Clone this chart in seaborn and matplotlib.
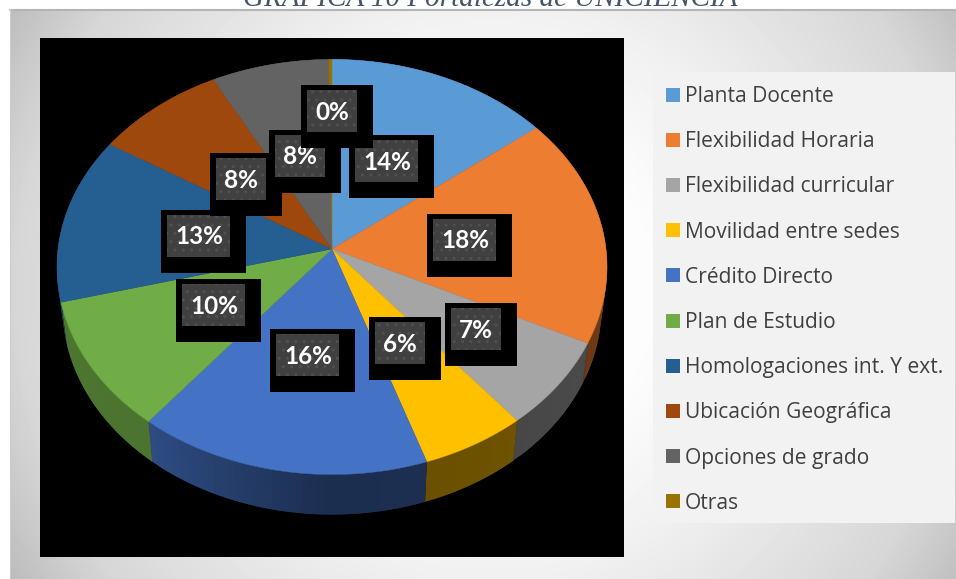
import numpy as np
import matplotlib
matplotlib.use("Agg")
import matplotlib.pyplot as plt
from matplotlib.patches import Rectangle, Patch
import seaborn as sns

# data
categorias = ["Planta Docente", "Flexibilidad Horaria", "Flexibilidad curricular",
              "Movilidad entre sedes", "Crédito Directo", "Plan de Estudio",
              "Homologaciones int. Y ext.", "Ubicación Geográfica",
              "Opciones de grado", "Otras"]
valores = [14.4, 17.9, 6.9, 5.7, 15.9, 10.2, 13.0, 8.4, 7.5, 0.2]
colores = ["#5b9bd5", "#ed7d31", "#a5a5a5", "#ffc000", "#4472c4",
           "#70ad47", "#255e91", "#9e480e", "#636363", "#997300"]
titulo = "GRÁFICA 10 Fortalezas de UNICIENCIA"

# layout, in pixels of the original picture
W, H = 956, 579
cx, cy = 332, 249
R, Ry, k = 274, 206, 0.0866
prof = 40
pos_etiquetas = [(387, 161), (465, 240), (476, 329), (400, 343), (308, 355),
                 (214, 305), (199, 236), (241, 179), (300, 156), (332, 111)]

sns.set_theme(style="white")
plt.rcParams["font.family"] = ["Open Sans", "DejaVu Sans"]
plt.rcParams["hatch.linewidth"] = 1.0
paleta = sns.color_palette(colores)

fig = plt.figure(figsize=(W / 100, H / 100), dpi=100, facecolor="white")

# the pie only gives the angles, it is projected below to get the tilted look
ax_pie = fig.add_axes([0, 0, 0.1, 0.1])
wedges, _ = ax_pie.pie(valores, startangle=90, counterclock=False, colors=paleta)
angulos = [(w.theta1, w.theta2) for w in wedges]
ax_pie.remove()

ax = fig.add_axes([0, 0, 1, 1])
ax.set_xlim(0, W)
ax.set_ylim(H, 0)
ax.axis("off")


def proyecta(t):
    x, y = np.cos(np.radians(t)), np.sin(np.radians(t))
    s = 1 / (1 + k * y)
    return cx + R * x * s, cy - Ry * y * s


# background gradient
xx, yy = np.meshgrid(np.arange(10, W), np.arange(9, H))
d = np.hypot(xx - 490, yy - 290) / 559
gris = np.interp(d, [0, 0.3, 0.52, 0.85, 1.0], [255, 252, 240, 214, 188]) / 255
ax.imshow(gris, cmap="gray", vmin=0, vmax=1, extent=(10, W, H, 9), aspect="auto", zorder=0)
ax.set_xlim(0, W)
ax.set_ylim(H, 0)
ax.plot([10, W], [9.5, 9.5], color="#b4b4b4", lw=1.5, zorder=1)
ax.plot([10.5, 10.5], [9, H], color="#cccccc", lw=0.8, zorder=1)

ax.add_patch(Rectangle((40, 38), 584, 519, facecolor="black", edgecolor="none", zorder=1))
ax.add_patch(Rectangle((653, 72), 302, 451, facecolor="#f2f2f2", edgecolor="none", zorder=1))

# side wall, darker towards the viewer. each piece runs over the next one so no seams show
for (a, b), col in zip(angulos, paleta):
    ts = np.linspace(a, b, max(int(abs(b - a) / 1.5), 1) + 1)
    for i in range(len(ts) - 1):
        t0, t1 = ts[i], ts[min(i + 2, len(ts) - 1)]
        reloj = (90 - (ts[i] + ts[i + 1]) / 2) % 360
        f = np.interp(reloj, [0, 116, 180, 218, 270, 360], [0.6, 0.45, 0.40, 0.67, 0.68, 0.6])
        tm = np.linspace(t0, t1, 4)
        xs, ys = proyecta(tm)
        xb = cx + (xs - cx) * 0.98
        ax.fill(np.r_[xs, xb[::-1]], np.r_[ys, ys[::-1] + prof],
                facecolor=tuple(np.array(col) * f), edgecolor="none", zorder=2)

# top face
for (a, b), col in zip(angulos, paleta):
    ts = np.linspace(a, b, 80)
    xs, ys = proyecta(ts)
    ax.fill(np.r_[cx, xs], np.r_[cy, ys], facecolor=col, edgecolor=col, lw=0.3, zorder=3)

# value labels, black box with dotted grey box on it
for i, (v, (tx, ty)) in enumerate(zip(valores, pos_etiquetas)):
    txt = f"{v:.0f}%"
    ancho = 63 if len(txt) == 3 else 50
    z = 4 + i
    ax.add_patch(Rectangle((tx - ancho / 2 - 6, ty - 26), ancho + 22, 63,
                           facecolor="black", edgecolor="none", zorder=z))
    ax.add_patch(Rectangle((tx - ancho / 2, ty - 21), ancho, 42, facecolor="#404040",
                           edgecolor="#505050", hatch="..", lw=0, zorder=z))
    ax.text(tx, ty + 1, txt, color="white", fontsize=17.5, fontweight="bold", family="Lato",
            ha="center", va="center", zorder=z)

handles = [Patch(facecolor=c, edgecolor="none") for c in paleta]
ley = ax.legend(handles, categorias, loc="upper left", bbox_to_anchor=(666, 86),
                bbox_transform=ax.transData, frameon=False, fontsize=15.15, labelcolor="#404040",
                handlelength=0.66, handleheight=0.66, handletextpad=0.24, labelspacing=1.15,
                borderaxespad=0, borderpad=0)
ley.set_zorder(20)

ax.text(490, 6, titulo, color="#44546a", fontsize=21, style="italic",
        family="Liberation Serif", ha="center", va="baseline", zorder=20)

fig.savefig("out.png", dpi=100, facecolor="white")
